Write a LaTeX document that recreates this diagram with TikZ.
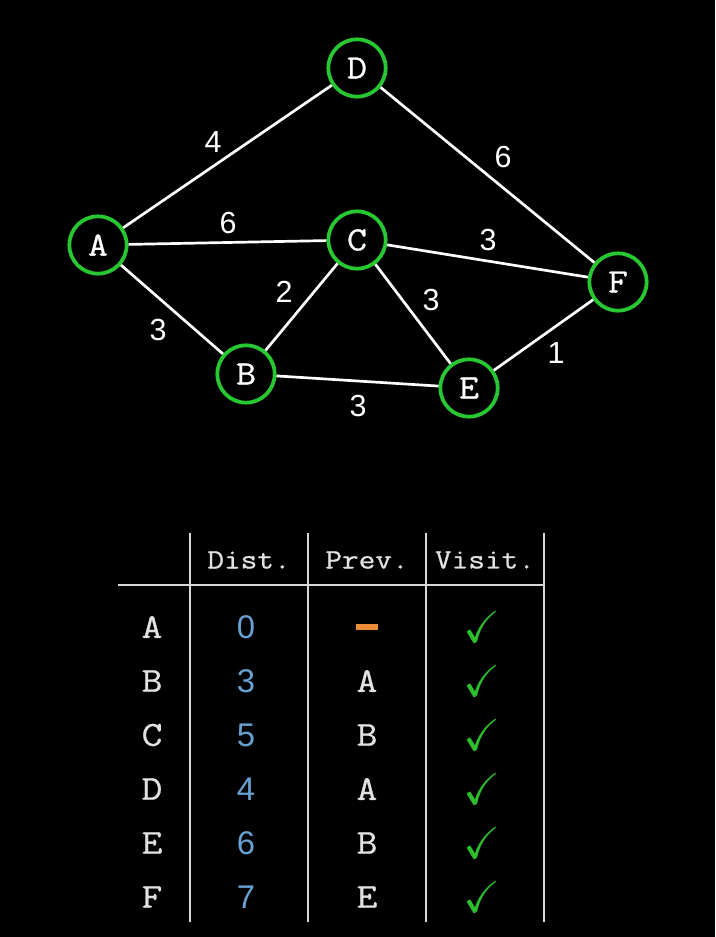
\documentclass[tikz,border=0pt]{standalone}
\usepackage{amssymb}
\usepackage{fontspec}
\setmainfont{Liberation Sans}
\setmonofont{Latin Modern Mono}[FakeStretch=1.15, FakeBold=0.8]

\definecolor{nodegreen}{RGB}{40,200,50}
\definecolor{tickgreen}{RGB}{45,190,45}
\definecolor{distblue}{RGB}{105,160,210}
\definecolor{dashorange}{RGB}{235,140,55}
\definecolor{rulegrey}{RGB}{215,215,215}
\definecolor{textgrey}{RGB}{225,225,225}

\begin{document}
\begin{tikzpicture}[x=0.03cm, y=-0.03cm,
    vertex/.style={circle, draw=nodegreen, line width=3.2pt, fill=black, minimum size=1.72cm, inner sep=0pt, text=white, font=\ttfamily\fontsize{29}{29}\selectfont},
    edge/.style={draw=white, line width=2.3pt},
    weight/.style={text=white, inner sep=0pt, font=\fontsize{26}{26}\selectfont},
    head/.style={text=textgrey, inner sep=0pt, font=\ttfamily\fontsize{24}{24}\selectfont},
    cell/.style={text=textgrey, inner sep=0pt, font=\ttfamily\fontsize{30}{30}\selectfont},
    dist/.style={text=distblue, inner sep=0pt, font=\fontsize{28}{28}\selectfont},
    tick/.style={text=tickgreen, inner sep=0pt, font=\fontsize{38}{38}\selectfont},
    tabline/.style={draw=rulegrey, line width=2.4pt}
]

% Fondo
\fill[black] (0,0) rectangle (715,937);

% Posiciones de los nodos
\node[vertex] (A) at (98,245) {A};
\node[vertex] (B) at (246,374) {B};
\node[vertex] (C) at (357,240) {C};
\node[vertex] (D) at (357,68) {D};
\node[vertex] (E) at (469,388) {E};
\node[vertex] (F) at (618,282) {F};

% Aristas
\draw[edge] (A) -- (D);
\draw[edge] (A) -- (C);
\draw[edge] (A) -- (B);
\draw[edge] (B) -- (C);
\draw[edge] (B) -- (E);
\draw[edge] (C) -- (E);
\draw[edge] (C) -- (F);
\draw[edge] (D) -- (F);
\draw[edge] (E) -- (F);

% Pesos
\node[weight] (wAD) at (213,142) {4};
\node[weight] (wAC) at (228,223) {6};
\node[weight] (wAB) at (158,330) {3};
\node[weight] (wBC) at (284,292) {2};
\node[weight] (wBE) at (358,406) {3};
\node[weight] (wCE) at (431,300) {3};
\node[weight] (wCF) at (488,240) {3};
\node[weight] (wDF) at (503,157) {6};
\node[weight] (wEF) at (556,353) {1};

% Tabla
\foreach \x [count=\k] in {190,308,426,544} {
  \coordinate (top\k) at (\x,533);
  \coordinate (bot\k) at (\x,922);
  \draw[tabline] (top\k) -- (bot\k);
}
\coordinate (hl) at (118,585);
\coordinate (hr) at (544,585);
\draw[tabline] (hl) -- (hr);

\node[head] (hdist) at (249,560) {Dist.};
\node[head] (hprev) at (367,560) {Prev.};
\node[head] (hvisit) at (485,560) {Visit.};

\foreach \name/\d/\p [count=\i] in {A/0/{\textcolor{dashorange}{\rule{18pt}{5pt}}}, B/3/A, C/5/B, D/4/A, E/6/B, F/7/E} {
  \node[cell] (row\i) at (152,{627+54*(\i-1)}) {\name};
  \node[dist] (dist\i) at (246,{627+54*(\i-1)}) {\d};
  \node[cell] (prev\i) at (367,{627+54*(\i-1)}) {\p};
  \node[tick] (tick\i) at (482,{627+54*(\i-1)}) {$\checkmark$};
}

\end{tikzpicture}
\end{document}
